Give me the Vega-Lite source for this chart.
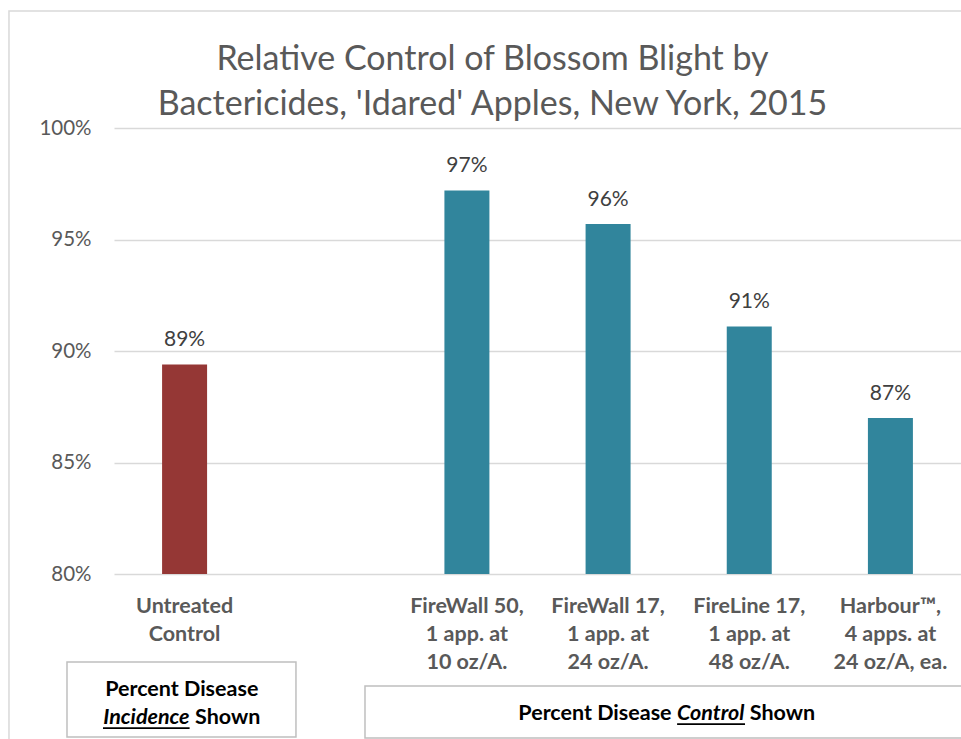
{
  "$schema": "https://vega.github.io/schema/vega-lite/v6.json",
  "width": 847,
  "height": 446,
  "autosize": {"type": "none"},
  "padding": {"left": 114, "top": 128, "right": 0, "bottom": 165},
  "background": "white",
  "config": {"view": {"stroke": null}, "font": "Lato"},
  "title": {
    "text": ["Relative Control of Blossom Blight by", "Bactericides, 'Idared' Apples, New York, 2015"],
    "font": "Lato",
    "fontSize": 34,
    "fontWeight": "normal",
    "color": "#595959",
    "lineHeight": 45,
    "anchor": "middle",
    "frame": "group",
    "baseline": "bottom",
    "offset": -146,
    "dx": -45
  },
  "resolve": {"scale": {"x": "independent"}, "axis": {"x": "independent"}},
  "layer": [
    {
      "data": {"values": [{"part": "frame"}]},
      "mark": {"type": "rect", "fill": null, "stroke": "#d9d9d9", "strokeWidth": 1.5},
      "encoding": {
        "x": {"datum": -0.744, "type": "quantitative", "scale": {"domain": [0, 6], "zero": false, "nice": false}, "axis": null},
        "x2": {"datum": 7},
        "y": {"datum": 1.0525, "type": "quantitative"},
        "y2": {"datum": 0.7}
      }
    },
    {
      "data": {
        "values": [
          {"treatment": "Untreated\nControl", "value": 0.894, "group": "Incidence"},
          {"treatment": "FireWall 50,\n1 app. at\n10 oz/A.", "value": 0.972, "group": "Control"},
          {"treatment": "FireWall 17,\n1 app. at\n24 oz/A.", "value": 0.957, "group": "Control"},
          {"treatment": "FireLine 17,\n1 app. at\n48 oz/A.", "value": 0.911, "group": "Control"},
          {"treatment": "Harbour™,\n4 apps. at\n24 oz/A, ea.", "value": 0.870, "group": "Control"}
        ]
      },
      "encoding": {
        "x": {
          "field": "treatment",
          "type": "nominal",
          "sort": null,
          "scale": {
            "domain": ["Untreated\nControl", " ", "FireWall 50,\n1 app. at\n10 oz/A.", "FireWall 17,\n1 app. at\n24 oz/A.", "FireLine 17,\n1 app. at\n48 oz/A.", "Harbour™,\n4 apps. at\n24 oz/A, ea."],
            "paddingInner": 0,
            "paddingOuter": 0
          },
          "axis": {
            "title": null,
            "labelAngle": 0,
            "labelExpr": "split(datum.label, '\\n')",
            "labelFont": "Lato",
            "labelFontSize": 21.5,
            "labelFontWeight": "bold",
            "labelColor": "#595959",
            "labelLineHeight": 28,
            "labelPadding": 21,
            "ticks": false,
            "domain": false,
            "grid": false
          }
        },
        "y": {
          "field": "value",
          "type": "quantitative",
          "scale": {"domain": [0.8, 1.0], "zero": false, "nice": false},
          "axis": {
            "title": null,
            "values": [0.8, 0.85, 0.9, 0.95, 1.0],
            "format": ".0%",
            "labelFont": "Lato",
            "labelFontSize": 20.5,
            "labelColor": "#595959",
            "labelPadding": 23,
            "ticks": false,
            "domain": false,
            "grid": true,
            "gridColor": "#d9d9d9",
            "gridWidth": 1.3
          }
        }
      },
      "layer": [
        {
          "mark": {"type": "bar", "width": 45},
          "encoding": {
            "y2": {"datum": 0.8},
            "color": {
              "field": "group",
              "type": "nominal",
              "scale": {"domain": ["Incidence", "Control"], "range": ["#953735", "#31859C"]},
              "legend": null
            }
          }
        },
        {
          "mark": {"type": "text", "baseline": "alphabetic", "dy": -18, "fontSize": 21, "color": "#404040", "font": "Lato"},
          "encoding": {"text": {"field": "value", "type": "quantitative", "format": ".0%"}}
        }
      ]
    },
    {
      "data": {"values": [{"box": "Incidence"}]},
      "mark": {"type": "rect", "fill": "white", "stroke": "#bfbfbf", "strokeWidth": 1.5},
      "encoding": {
        "x": {"datum": -0.333, "type": "quantitative", "scale": {"domain": [0, 6], "zero": false, "nice": false}, "axis": null},
        "x2": {"datum": 1.289},
        "y": {"datum": 0.7605, "type": "quantitative"},
        "y2": {"datum": 0.7269}
      }
    },
    {
      "data": {"values": [{"box": "Control"}]},
      "mark": {"type": "rect", "fill": "white", "stroke": "#bfbfbf", "strokeWidth": 1.5},
      "encoding": {
        "x": {"datum": 1.778, "type": "quantitative", "scale": {"domain": [0, 6], "zero": false, "nice": false}, "axis": null},
        "x2": {"datum": 6.5},
        "y": {"datum": 0.7498, "type": "quantitative"},
        "y2": {"datum": 0.7265}
      }
    },
    {
      "data": {"values": [{"box": "Incidence"}]},
      "mark": {"type": "text", "align": "center", "baseline": "alphabetic", "fontSize": 21.5, "fontWeight": "bold", "color": "black", "font": "Lato", "text": "Percent Disease"},
      "encoding": {
        "x": {"datum": 0.48, "type": "quantitative", "scale": {"domain": [0, 6], "zero": false, "nice": false}, "axis": null},
        "y": {"datum": 0.7453, "type": "quantitative"}
      }
    },
    {
      "data": {"values": [{"box": "Incidence"}]},
      "mark": {"type": "text", "align": "right", "baseline": "alphabetic", "fontSize": 21.5, "fontWeight": "bold", "fontStyle": "italic", "color": "black", "font": "Lato", "text": "Incidence"},
      "encoding": {
        "x": {"datum": 0.5355, "type": "quantitative", "scale": {"domain": [0, 6], "zero": false, "nice": false}, "axis": null},
        "y": {"datum": 0.7327, "type": "quantitative"}
      }
    },
    {
      "data": {"values": [{"box": "Incidence"}]},
      "mark": {"type": "rule", "color": "black", "strokeWidth": 1.8},
      "encoding": {
        "x": {"datum": -0.078, "type": "quantitative", "scale": {"domain": [0, 6], "zero": false, "nice": false}, "axis": null},
        "x2": {"datum": 0.5355},
        "y": {"datum": 0.7309, "type": "quantitative"}
      }
    },
    {
      "data": {"values": [{"box": "Incidence"}]},
      "mark": {"type": "text", "align": "left", "baseline": "alphabetic", "fontSize": 21.5, "fontWeight": "bold", "color": "black", "font": "Lato", "text": "Shown"},
      "encoding": {
        "x": {"datum": 0.5745, "type": "quantitative", "scale": {"domain": [0, 6], "zero": false, "nice": false}, "axis": null},
        "y": {"datum": 0.7327, "type": "quantitative"}
      }
    },
    {
      "data": {"values": [{"box": "Control"}]},
      "mark": {"type": "text", "align": "right", "baseline": "alphabetic", "fontSize": 21.5, "fontWeight": "bold", "color": "black", "font": "Lato", "text": "Percent Disease"},
      "encoding": {
        "x": {"datum": 3.950, "type": "quantitative", "scale": {"domain": [0, 6], "zero": false, "nice": false}, "axis": null},
        "y": {"datum": 0.7345, "type": "quantitative"}
      }
    },
    {
      "data": {"values": [{"box": "Control"}]},
      "mark": {"type": "text", "align": "left", "baseline": "alphabetic", "fontSize": 21.5, "fontWeight": "bold", "fontStyle": "italic", "color": "black", "font": "Lato", "text": "Control"},
      "encoding": {
        "x": {"datum": 3.989, "type": "quantitative", "scale": {"domain": [0, 6], "zero": false, "nice": false}, "axis": null},
        "y": {"datum": 0.7345, "type": "quantitative"}
      }
    },
    {
      "data": {"values": [{"box": "Control"}]},
      "mark": {"type": "rule", "color": "black", "strokeWidth": 1.8},
      "encoding": {
        "x": {"datum": 3.989, "type": "quantitative", "scale": {"domain": [0, 6], "zero": false, "nice": false}, "axis": null},
        "x2": {"datum": 4.470},
        "y": {"datum": 0.7327, "type": "quantitative"}
      }
    },
    {
      "data": {"values": [{"box": "Control"}]},
      "mark": {"type": "text", "align": "left", "baseline": "alphabetic", "fontSize": 21.5, "fontWeight": "bold", "color": "black", "font": "Lato", "text": "Shown"},
      "encoding": {
        "x": {"datum": 4.504, "type": "quantitative", "scale": {"domain": [0, 6], "zero": false, "nice": false}, "axis": null},
        "y": {"datum": 0.7345, "type": "quantitative"}
      }
    }
  ]
}
